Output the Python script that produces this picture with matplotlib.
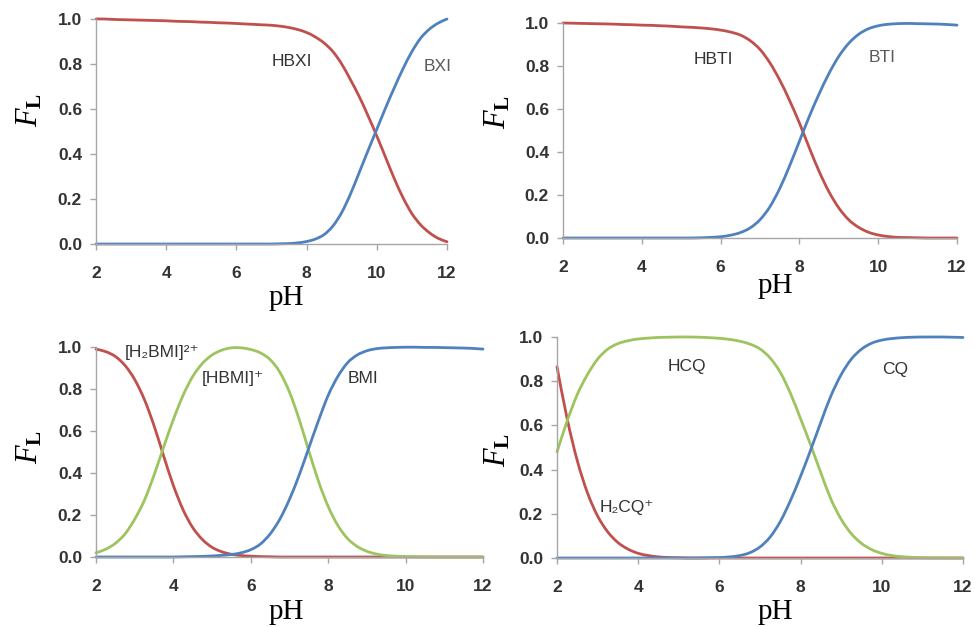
import matplotlib
matplotlib.use("Agg")
import matplotlib.pyplot as plt
import numpy as np
from matplotlib.path import Path
from matplotlib.patches import PathPatch

plt.rcParams['font.family'] = ['Liberation Sans', 'DejaVu Sans']
plt.rcParams['mathtext.fontset'] = 'custom'
plt.rcParams['mathtext.rm'] = 'Liberation Serif'
plt.rcParams['mathtext.it'] = 'Liberation Serif:italic'
plt.rcParams['mathtext.bf'] = 'Liberation Serif:bold'

# pH grid shared by all panels (2 to 12, step 0.25)
ph = np.arange(2.0, 12.01, 0.25)

# panel 1: HBXI / BXI
hbxi = [1.000, 1.000, 0.998, 0.997, 0.996, 0.995, 0.994, 0.993, 0.992, 0.990,
        0.989, 0.988, 0.986, 0.985, 0.983, 0.982, 0.980, 0.978, 0.976, 0.974,
        0.972, 0.968, 0.962, 0.953, 0.940, 0.920, 0.893, 0.855, 0.800, 0.730,
        0.655, 0.570, 0.480, 0.385, 0.290, 0.205, 0.135, 0.085, 0.050, 0.025,
        0.010]
bxi = [0.000, 0.000, 0.000, 0.000, 0.000, 0.000, 0.000, 0.000, 0.000, 0.000,
       0.000, 0.000, 0.000, 0.000, 0.000, 0.000, 0.000, 0.000, 0.000, 0.000,
       0.000, 0.001, 0.002, 0.005, 0.011, 0.022, 0.042, 0.080, 0.140, 0.222,
       0.318, 0.415, 0.510, 0.605, 0.695, 0.780, 0.855, 0.915, 0.955, 0.982,
       1.000]

# panel 2: HBTI / BTI
hbti = [1.000, 0.999, 0.998, 0.997, 0.996, 0.995, 0.993, 0.992, 0.990, 0.989,
        0.987, 0.985, 0.982, 0.980, 0.977, 0.973, 0.967, 0.958, 0.944, 0.918,
        0.877, 0.815, 0.735, 0.640, 0.535, 0.420, 0.310, 0.215, 0.140, 0.085,
        0.050, 0.027, 0.014, 0.007, 0.003, 0.002, 0.001, 0.000, 0.000, 0.000,
        0.000]
bti = [0.000, 0.000, 0.000, 0.000, 0.000, 0.000, 0.000, 0.000, 0.000, 0.000,
       0.000, 0.000, 0.000, 0.000, 0.001, 0.003, 0.006, 0.013, 0.025, 0.047,
       0.085, 0.145, 0.230, 0.335, 0.450, 0.565, 0.670, 0.765, 0.845, 0.905,
       0.947, 0.973, 0.987, 0.994, 0.997, 0.998, 0.997, 0.996, 0.995, 0.993,
       0.990]

# panel 3: [H2BMI]2+ / [HBMI]+ / BMI
h2bmi = [0.990, 0.978, 0.955, 0.912, 0.845, 0.750, 0.625, 0.480, 0.340, 0.225,
         0.140, 0.083, 0.046, 0.025, 0.013, 0.007, 0.004, 0.002, 0.001, 0.000,
         0.000, 0.000, 0.000, 0.000, 0.000, 0.000, 0.000, 0.000, 0.000, 0.000,
         0.000, 0.000, 0.000, 0.000, 0.000, 0.000, 0.000, 0.000, 0.000, 0.000,
         0.000]
hbmi = [0.020, 0.037, 0.065, 0.110, 0.180, 0.270, 0.390, 0.525, 0.655, 0.770,
        0.860, 0.922, 0.962, 0.985, 0.996, 0.996, 0.988, 0.972, 0.940, 0.880,
        0.785, 0.655, 0.505, 0.360, 0.240, 0.150, 0.088, 0.050, 0.027, 0.014,
        0.007, 0.004, 0.002, 0.001, 0.000, 0.000, 0.000, 0.000, 0.000, 0.000,
        0.000]
bmi = [0.000, 0.000, 0.000, 0.000, 0.000, 0.000, 0.000, 0.000, 0.000, 0.001,
       0.002, 0.003, 0.005, 0.008, 0.012, 0.020, 0.035, 0.062, 0.110, 0.180,
       0.275, 0.390, 0.520, 0.650, 0.770, 0.860, 0.925, 0.962, 0.982, 0.992,
       0.996, 0.998, 0.999, 0.999, 0.998, 0.998, 0.997, 0.996, 0.995, 0.993,
       0.990]

# panel 4: H2CQ+ / HCQ / CQ
h2cq = [0.865, 0.630, 0.440, 0.295, 0.190, 0.118, 0.070, 0.040, 0.021, 0.011,
        0.005, 0.002, 0.001, 0.000, 0.000, 0.000, 0.000, 0.000, 0.000, 0.000,
        0.000, 0.000, 0.000, 0.000, 0.000, 0.000, 0.000, 0.000, 0.000, 0.000,
        0.000, 0.000, 0.000, 0.000, 0.000, 0.000, 0.000, 0.000, 0.000, 0.000,
        0.000]
hcq = [0.480, 0.620, 0.740, 0.830, 0.900, 0.945, 0.970, 0.983, 0.991, 0.995,
       0.998, 0.999, 1.000, 1.000, 0.999, 0.997, 0.994, 0.989, 0.981, 0.968,
       0.946, 0.905, 0.840, 0.745, 0.630, 0.510, 0.385, 0.265, 0.175, 0.110,
       0.066, 0.038, 0.021, 0.011, 0.006, 0.003, 0.001, 0.000, 0.000, 0.000,
       0.000]
cq = [0.000, 0.000, 0.000, 0.000, 0.000, 0.000, 0.000, 0.000, 0.000, 0.000,
      0.000, 0.000, 0.000, 0.000, 0.000, 0.001, 0.002, 0.005, 0.011, 0.024,
      0.050, 0.095, 0.165, 0.260, 0.370, 0.490, 0.615, 0.735, 0.830, 0.900,
      0.945, 0.972, 0.986, 0.993, 0.997, 0.999, 1.000, 1.000, 1.000, 0.999,
      0.998]

RED = '#C0504D'
BLUE = '#4F81BD'
GREEN = '#9DC45F'
AXCOL = '#A6A6A6'
TXT = '#333333'

W, H = 975, 627
fig = plt.figure(figsize=(W / 100, H / 100), dpi=100)


def px_axes(left, top, right, bottom):
    return fig.add_axes([left / W, 1 - bottom / H, (right - left) / W, (bottom - top) / H])


def smooth_line(ax, x, y, color):
    # Excel-style smoothed line: bezier segments through the read points
    pts = np.column_stack([x, y])
    n = len(pts)
    verts = [pts[0]]
    codes = [Path.MOVETO]
    for i in range(n - 1):
        p0 = pts[max(i - 1, 0)]
        p1 = pts[i]
        p2 = pts[i + 1]
        p3 = pts[min(i + 2, n - 1)]
        verts += [p1 + (p2 - p0) / 6, p2 - (p3 - p1) / 6, p2]
        codes += [Path.CURVE4] * 3
    patch = PathPatch(Path(verts, codes), fill=False, edgecolor=color, lw=2.0,
                      clip_on=False, capstyle='round', joinstyle='round')
    ax.add_patch(patch)


panels = [
    dict(box=(96, 19, 447, 244), series=[(hbxi, RED), (bxi, BLUE)],
         labels=[(7.58, 0.81, 'HBXI', TXT), (11.74, 0.79, 'BXI', '#5a5a5a')],
         ph_pos=(286, 305), fl_pos=(29, 110)),
    dict(box=(563, 23, 957, 238), series=[(hbti, RED), (bti, BLUE)],
         labels=[(5.81, 0.83, 'HBTI', TXT), (10.1, 0.84, 'BTI', '#5a5a5a')],
         ph_pos=(775, 293), fl_pos=(497, 112)),
    dict(box=(96, 347, 483, 557), series=[(h2bmi, RED), (hbmi, GREEN), (bmi, BLUE)],
         labels=[(3.71, 0.975, '[H₂BMI]²⁺', TXT), (5.54, 0.85, '[HBMI]⁺', TXT),
                 (8.9, 0.85, 'BMI', TXT)],
         ph_pos=(286, 619), fl_pos=(29, 447)),
    dict(box=(557, 337, 963, 558), series=[(h2cq, RED), (hcq, GREEN), (cq, BLUE)],
         labels=[(5.2, 0.865, 'HCQ', TXT), (10.33, 0.855, 'CQ', TXT),
                 (3.72, 0.23, 'H₂CQ⁺', TXT)],
         ph_pos=(775, 619), fl_pos=(497, 450)),
]

for p in panels:
    ax = px_axes(*p['box'])
    for vals, col in p['series']:
        smooth_line(ax, ph, np.asarray(vals), col)
    ax.set_xlim(2, 12)
    ax.set_ylim(0, 1)
    ax.set_xticks([2, 4, 6, 8, 10, 12])
    ax.set_yticks([0.0, 0.2, 0.4, 0.6, 0.8, 1.0])
    ax.set_yticklabels(['0.0', '0.2', '0.4', '0.6', '0.8', '1.0'])
    for s in ['top', 'right']:
        ax.spines[s].set_visible(False)
    for s in ['left', 'bottom']:
        ax.spines[s].set_color(AXCOL)
        ax.spines[s].set_linewidth(1.0)
    ax.tick_params(direction='out', length=4, width=1, color=AXCOL,
                   labelsize=12.5, labelcolor='#333333')
    ax.tick_params(axis='x', pad=12)
    ax.tick_params(axis='y', pad=6)
    for lab in ax.get_xticklabels() + ax.get_yticklabels():
        lab.set_fontweight('bold')
    for x, y, t, c in p['labels']:
        ax.text(x, y, t, ha='center', va='center', fontsize=12.5, color=c,
                family=['Liberation Sans', 'DejaVu Sans'])
    px, py = p['ph_pos']
    fig.text(px / W, 1 - py / H, 'pH', ha='center', va='baseline',
             fontsize=21, family='Liberation Serif', color='black')
    fx, fy = p['fl_pos']
    fig.text(fx / W, 1 - fy / H, r'$F_{\mathbf{L}}$', rotation=90,
             ha='center', va='center', fontsize=22, color='black')

fig.savefig('out.png', dpi=100, facecolor='white')
